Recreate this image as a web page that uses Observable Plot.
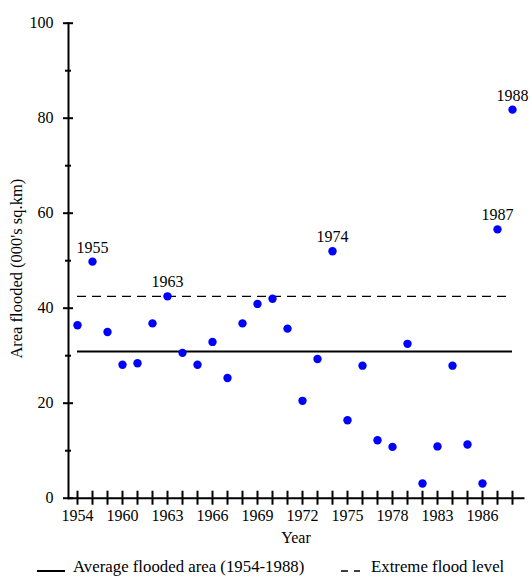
<!DOCTYPE html>
<html>
<head>
<meta charset="utf-8">
<script src="https://cdn.jsdelivr.net/npm/d3@7"></script>
<script src="https://cdn.jsdelivr.net/npm/@observablehq/plot@0.6"></script>
<style>
  html, body { margin: 0; padding: 0; background: #fff; }
  #wrap { position: relative; width: 532px; height: 578px; overflow: hidden; font-family: "Liberation Serif", "Times New Roman", serif; }
  #legend { position: absolute; left: 0; top: 556px; width: 532px; height: 22px; font-size: 16.8px; line-height: 19px; color: #000; }
  #legend .item { position: absolute; top: 0; height: 22px; white-space: nowrap; }
  #legend svg { position: absolute; left: 0; top: 0; display: block; }
  #legend span { position: absolute; top: 1px; }
</style>
</head>
<body>
<div id="wrap">
  <div id="chart"></div>
  <div id="legend">
    <div class="item" style="left:37px"><svg width="28" height="22"><line x1="0" x2="28" y1="15" y2="15" stroke="#000" stroke-width="2"/></svg><span style="left:36px">Average flooded area (1954-1988)</span></div>
    <div class="item" style="left:341px"><svg width="19" height="22"><line x1="0" x2="19" y1="15" y2="15" stroke="#000" stroke-width="1.3" stroke-dasharray="7,6"/></svg><span style="left:30px">Extreme flood level</span></div>
  </div>
</div>
<script>
// Categories (years with records)
const years = ["1954","1955","1956","1960","1961","1962","1963","1964","1965","1966",
               "1967","1968","1969","1970","1971","1972","1973","1974","1975","1976",
               "1977","1978","1980","1982","1983","1984","1985","1986","1987","1988"];
// Area flooded (000's sq.km)
const area = [36.4, 49.8, 35.0, 28.1, 28.4, 36.8, 42.5, 30.6, 28.1, 32.9,
              25.3, 36.8, 40.9, 42.0, 35.7, 20.5, 29.3, 52.0, 16.4, 27.9,
              12.2, 10.8, 32.5, 3.1, 10.9, 27.9, 11.3, 3.1, 56.6, 81.8];
const labelledYears = ["1955","1963","1974","1987","1988"];
const averageLevel = 30.9;
const extremeLevel = 42.5;
const xTickLabels = ["1954","1960","1963","1966","1969","1972","1975","1978","1983","1986"];
const yTicks = [0, 20, 40, 60, 80, 100];
const yMinorTicks = [10, 30, 50, 70, 90];
const yLabel = "Area flooded (000's sq.km)";
const xLabel = "Year";

const data = years.map((y, i) => ({year: y, area: area[i]}));
const labelled = data.filter(d => labelledYears.includes(d.year));
const firstYear = years[0], lastYear = years[years.length - 1];

const H = 556;
const chart = Plot.plot({
  width: 532,
  height: H,
  marginLeft: 68,
  marginRight: 9,
  marginTop: 22.7,
  marginBottom: H - 497.7,
  insetLeft: 6.7,
  insetRight: 8.3,
  style: {fontFamily: "'Liberation Serif', 'Times New Roman', serif", fontSize: "16px", color: "#000", background: "#fff"},
  x: {type: "point", domain: years, padding: 0, label: null},
  y: {domain: [0, 100], label: null},
  marks: [
    Plot.frame({anchor: "left", strokeWidth: 2}),
    Plot.frame({anchor: "bottom", strokeWidth: 2}),
    Plot.axisY({ticks: yTicks, tickSize: 5, text: null, strokeWidth: 2, label: null}),
    Plot.axisY({ticks: yTicks, tickSize: -5, text: null, strokeWidth: 2, label: null}),
    Plot.axisY({ticks: yMinorTicks, tickSize: 3, text: null, strokeWidth: 2, label: null}),
    Plot.axisY({ticks: yMinorTicks, tickSize: -3, text: null, strokeWidth: 2, label: null}),
    Plot.axisX({ticks: years, tickSize: 7, text: null, strokeWidth: 2, label: null}),
    Plot.axisX({ticks: years, tickSize: -7, text: null, strokeWidth: 2, label: null}),
    Plot.text(yTicks, {y: d => d, text: d => String(d), frameAnchor: "left", dx: -15, textAnchor: "end", lineAnchor: "middle", fill: "#000", fontSize: 16}),
    Plot.text(xTickLabels, {x: d => d, text: d => d, frameAnchor: "bottom", dy: 11, textAnchor: "middle", lineAnchor: "top", fill: "#000", fontSize: 16}),
    Plot.ruleY([averageLevel], {x1: () => firstYear, x2: () => lastYear, stroke: "#000", strokeWidth: 2}),
    Plot.ruleY([extremeLevel], {x1: () => firstYear, x2: () => lastYear, stroke: "#000", strokeWidth: 1.3, strokeDasharray: "9,6"}),
    Plot.dot(data, {x: "year", y: "area", r: 4.2, fill: "#0000ff", stroke: null}),
    Plot.text(labelled, {x: "year", y: "area", text: "year", dy: -14, fill: "#000", fontSize: 16}),
    Plot.text([xLabel], {frameAnchor: "bottom", dy: 39.3, lineAnchor: "middle", textAnchor: "middle", fill: "#000", fontSize: 16}),
    Plot.text([yLabel], {frameAnchor: "left", rotate: -90, dx: -51.5, dy: 8, lineAnchor: "middle", textAnchor: "middle", fill: "#000", fontSize: 16.5})
  ]
});
document.getElementById("chart").appendChild(chart);
</script>
</body>
</html>
